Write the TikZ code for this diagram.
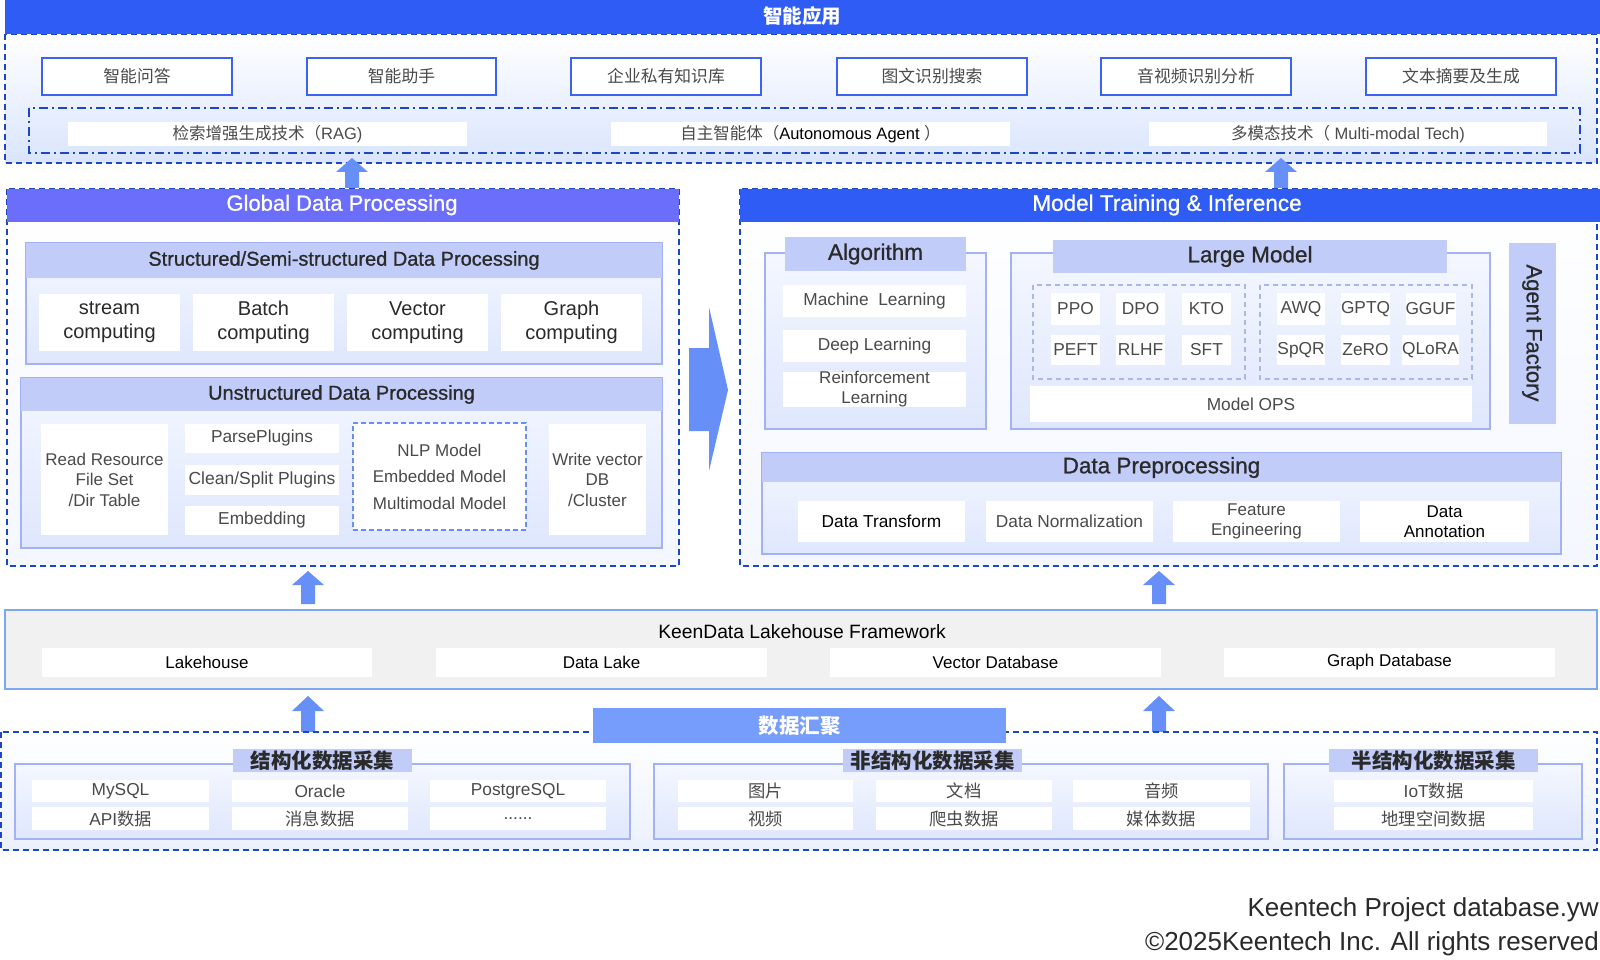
\documentclass[tikz,border=0pt]{standalone}
\usepackage{fontspec}
\setmainfont{Liberation Sans}
\newfontfamily\cjk{Noto Sans CJK SC}
\newfontfamily\medium[FakeBold=0.9]{Liberation Sans}
\usetikzlibrary{calc}
\definecolor{topblue}{HTML}{2F5CF5}
\definecolor{purplebar}{HTML}{6B6DFB}
\definecolor{arrowblue}{HTML}{6690F8}
\definecolor{hdr}{HTML}{C1CCF9}
\definecolor{dblue}{HTML}{1C47C4}
\definecolor{secborder}{HTML}{A2B2F5}
\definecolor{hub}{HTML}{769DFB}
\definecolor{fwfill}{HTML}{F1F1F1}
\definecolor{fwborder}{HTML}{7EA7EF}
\definecolor{appborder}{HTML}{3B63F0}
\definecolor{txtgray}{HTML}{4A4A4A}
\definecolor{txtdark}{HTML}{2A2A2A}
\definecolor{lightbot}{HTML}{D9E4FD}
\definecolor{secbot}{HTML}{DFE7FD}
\definecolor{sectop}{HTML}{F4F7FF}
\definecolor{nlpborder}{HTML}{6A8CF5}
\definecolor{grpdash}{HTML}{A9B8E8}
\newcommand\zh[1]{{\cjk #1}}
\newcommand\bx[7][]{\node[minimum width={(#5)-(#3)}, minimum height={(#6)-(#4)}, #1] (#2) at ({((#3)+(#5))/2},{((#4)+(#6))/2}) {#7};}
\newcommand\fs[2]{\fontsize{#1}{#2}\selectfont}
\newcommand\uparr[4]{\fill[arrowblue] (#1-7,#4) -- (#1-7,#3) -- (#1-16,#3) -- (#1,#2) -- (#1+16,#3) -- (#1+7,#3) -- (#1+7,#4) -- cycle;}
\tikzset{
  dashbox/.style={draw=dblue, line width=1.5pt, dash pattern=on 6pt off 4pt},
  dashdotbox/.style={draw=dblue, line width=1.5pt, dash pattern=on 9pt off 4pt on 2pt off 4pt},
  appbox/.style={draw=appborder, line width=1.5pt, fill=white, text=txtgray, font=\cjk\fs{16.8}{19}},
  techbar/.style={fill=white, text=txtgray, font=\fs{16.5}{19}},
  item/.style={fill=white, text=txtgray, font=\fs{17.3}{20}, align=center},
  bigitem/.style={fill=white, text=txtdark, font=\fs{20}{24}, align=center},
  section/.style={top color=sectop, bottom color=secbot, draw=secborder, line width=1.3pt},
  hdrbar/.style={fill=hdr, text=txtdark, font=\medium\fs{20}{23}},
  bighdr/.style={fill=hdr, text=txtdark, font=\medium\fs{22.5}{26}},
  grplabel/.style={fill=hdr, text=txtdark, font=\cjk\bfseries\fs{20.5}{23}},
  dbitem/.style={fill=white, text=black, font=\fs{17}{20}},
}
\begin{document}
\begin{tikzpicture}[x=1pt,y=-1pt, every node/.style={inner sep=0pt}]
\useasboundingbox (0,0) rectangle (1600,960);
\fill[white] (0,0) rectangle (1600,960);

% ===== Top: 智能应用 =====
\path[top color=white, bottom color=lightbot, dashbox] (5,34) rectangle (1597,163);
\fill[topblue] (5,0) rectangle (1600,34);
\node[text=white, font=\cjk\bfseries\fs{19.5}{22}] (title) at (802,16) {智能应用};
\bx[appbox]{app1}{42}{58}{232}{95}{智能问答}
\bx[appbox]{app2}{307}{58}{496}{95}{智能助手}
\bx[appbox]{app3}{571}{58}{761}{95}{企业私有知识库}
\bx[appbox]{app4}{837}{58}{1027}{95}{图文识别搜索}
\bx[appbox]{app5}{1101}{58}{1291}{95}{音视频识别分析}
\bx[appbox]{app6}{1366}{58}{1556}{95}{文本摘要及生成}
\draw[dashdotbox] (29,108) rectangle (1580,153);
\bx[techbar]{rag}{68}{122}{467}{146}{\zh{检索增强生成技术（}RAG)}
\bx[techbar]{agent}{611}{122}{1010}{146}{\zh{自主智能体（}\textcolor{black}{Autonomous Agent }\zh{）}}
\bx[techbar]{mm}{1149}{122}{1547}{146}{\zh{多模态技术（} Multi-modal Tech)}

% arrows to top
\uparr{352}{158}{172}{189}
\uparr{1281}{158}{172}{189}

% ===== Global Data Processing =====
\path[top color=white, bottom color=sectop, dashbox] (7,189) rectangle (679,566);
\fill[purplebar] (7,189) rectangle (679,222);
\node[text=white, font=\medium\fs{22}{26}] (gdp) at (342,205) {Global Data Processing};

\path[section] (26,243) rectangle (662,364);
\bx[hdrbar]{sdp}{26}{243}{662}{278}{Structured/Semi-structured Data Processing}
\bx[bigitem]{s1}{39}{294}{180}{351}{stream\\computing}
\bx[bigitem]{s2}{193}{294}{334}{351}{Batch\\computing}
\bx[bigitem]{s3}{347}{294}{488}{351}{Vector\\computing}
\bx[bigitem]{s4}{501}{294}{642}{351}{Graph\\computing}

\path[section] (21,378) rectangle (662,548);
\bx[hdrbar]{udp}{21}{378}{662}{411}{Unstructured Data Processing}
\bx[item, font=\fs{17}{20.5}]{u1}{41}{424}{168}{535}{Read Resource\\File Set\\/Dir Table}
\bx[item]{u2}{185}{424}{339}{453}{ParsePlugins}
\bx[item, font=\fs{17.5}{20}]{u3}{185}{465}{339}{495}{Clean/Split Plugins}
\bx[item]{u4}{185}{506}{339}{535}{Embedding}
\bx[item, draw=nlpborder, line width=1.3pt, dash pattern=on 5pt off 3pt, font=\fs{17}{26.5}]{u5}{353}{423}{526}{530}{NLP Model\\Embedded Model\\Multimodal Model}
\bx[item, font=\fs{17}{20.5}]{u6}{549}{424}{646}{535}{Write vector\\DB\\/Cluster}

% big right arrow
\fill[arrowblue] (689,348) -- (709,348) -- (709,307) -- (728,390) -- (709,471) -- (709,431) -- (689,431) -- cycle;

% ===== Model Training & Inference =====
\path[top color=white, bottom color=sectop, dashbox] (740,189) rectangle (1597,566);
\fill[topblue] (740,189) rectangle (1600,222);
\node[text=white, font=\medium\fs{22.5}{26}] (mti) at (1167,205) {Model Training \& Inference};

\path[section] (765,253) rectangle (986,429);
\bx[bighdr]{alg}{785}{237}{966}{271}{Algorithm}
\bx[item]{a1}{783}{285}{966}{317}{Machine\ \ Learning}
\bx[item]{a2}{783}{330}{966}{362}{Deep Learning}
\bx[item, font=\fs{17}{20}]{a3}{783}{372}{966}{407}{Reinforcement\\Learning}

\path[section] (1011,253) rectangle (1490,429);
\bx[bighdr]{lm}{1053}{240}{1447}{273}{Large Model}
\draw[grpdash, line width=1.2pt, dash pattern=on 5pt off 4pt] (1033,285) rectangle (1245,379);
\draw[grpdash, line width=1.2pt, dash pattern=on 5pt off 4pt] (1260,285) rectangle (1472,379);
\bx[item]{m1}{1051}{293}{1100}{325}{PPO}
\bx[item]{m2}{1116}{293}{1165}{325}{DPO}
\bx[item]{m3}{1182}{293}{1231}{325}{KTO}
\bx[item]{m4}{1051}{335}{1100}{365}{PEFT}
\bx[item]{m5}{1116}{335}{1165}{365}{RLHF}
\bx[item]{m6}{1182}{335}{1231}{365}{SFT}
\bx[item]{q1}{1277}{293}{1325}{325}{AWQ}
\bx[item]{q2}{1341}{293}{1390}{325}{GPTQ}
\bx[item]{q3}{1406}{293}{1455}{325}{GGUF}
\bx[item]{q4}{1277}{335}{1325}{365}{SpQR}
\bx[item]{q5}{1341}{335}{1390}{365}{ZeRO}
\bx[item]{q6}{1406}{335}{1455}{365}{QLoRA}
\bx[item]{ops}{1030}{386}{1472}{422}{Model OPS}
\fill[hdr] (1509,243) rectangle (1556,424);
\node[rotate=-90, text=txtdark, font=\medium\fs{22}{26}] (af) at (1532,333) {Agent Factory};

\path[section] (762,453) rectangle (1561,554);
\bx[bighdr]{dpp}{762}{453}{1561}{482}{Data Preprocessing}
\bx[item, text=black]{d1}{798}{501}{965}{542}{Data Transform}
\bx[item]{d2}{986}{501}{1153}{542}{Data Normalization}
\bx[item, font=\fs{17}{20}]{d3}{1173}{501}{1340}{542}{Feature\\Engineering}
\bx[item, text=black, font=\fs{17}{20}]{d4}{1360}{501}{1529}{542}{Data\\Annotation}

% arrows into processing
\uparr{308}{571}{585}{604}
\uparr{1159}{571}{585}{604}

% ===== Lakehouse Framework =====
\draw[fill=fwfill, draw=fwborder, line width=1.5pt] (5,610) rectangle (1597,689);
\node[text=black, font=\fs{19.3}{22}] (fw) at (802,632) {KeenData Lakehouse Framework};
\bx[dbitem]{l1}{42}{648}{372}{677}{Lakehouse}
\bx[dbitem]{l2}{436}{648}{767}{677}{Data Lake}
\bx[dbitem]{l3}{830}{648}{1161}{677}{Vector Database}
\bx[dbitem]{l4}{1224}{648}{1555}{677}{Graph Database}

\uparr{308}{696}{711}{732}
\uparr{1159}{696}{711}{732}

% ===== Data collection =====
\path[top color=white, bottom color=secbot!60!white, dashbox] (1,732) rectangle (1597,850);
\bx[fill=hub, text=white, font=\cjk\bfseries\fs{20.5}{23}]{hubn}{593}{708}{1006}{743}{数据汇聚}

\path[section] (15,764) rectangle (630,839);
\path[section] (654,764) rectangle (1268,839);
\path[section] (1284,764) rectangle (1582,839);
\bx[grplabel]{g1}{233}{749}{412}{772}{结构化数据采集}
\bx[grplabel]{g2}{843}{749}{1022}{772}{非结构化数据采集}
\bx[grplabel]{g3}{1329}{749}{1538}{772}{半结构化数据采集}

\bx[item]{c1}{32}{780}{209}{802}{MySQL}
\bx[item]{c2}{232}{780}{408}{802}{Oracle}
\bx[item]{c3}{430}{780}{606}{802}{PostgreSQL}
\bx[item]{c4}{32}{807}{209}{830}{API\zh{数据}}
\bx[item]{c5}{232}{807}{408}{830}{\zh{消息数据}}
\bx[item]{c6}{430}{807}{606}{830}{......}

\bx[item]{n1}{678}{780}{853}{802}{\zh{图片}}
\bx[item]{n2}{876}{780}{1052}{802}{\zh{文档}}
\bx[item]{n3}{1073}{780}{1250}{802}{\zh{音频}}
\bx[item]{n4}{678}{807}{853}{830}{\zh{视频}}
\bx[item]{n5}{876}{807}{1052}{830}{\zh{爬虫数据}}
\bx[item]{n6}{1073}{807}{1250}{830}{\zh{媒体数据}}

\bx[item]{h1}{1334}{780}{1533}{802}{IoT\zh{数据}}
\bx[item]{h2}{1334}{807}{1533}{830}{\zh{地理空间数据}}

% footer
\node[anchor=east, text=txtdark, font=\fs{26}{30}] (f1) at (1599,910) {Keentech Project database.yw};
\node[anchor=east, text=txtdark, font=\fs{26}{30}] (f2) at (1599,944) {©2025Keentech Inc. All rights reserved};
\end{tikzpicture}
\end{document}
